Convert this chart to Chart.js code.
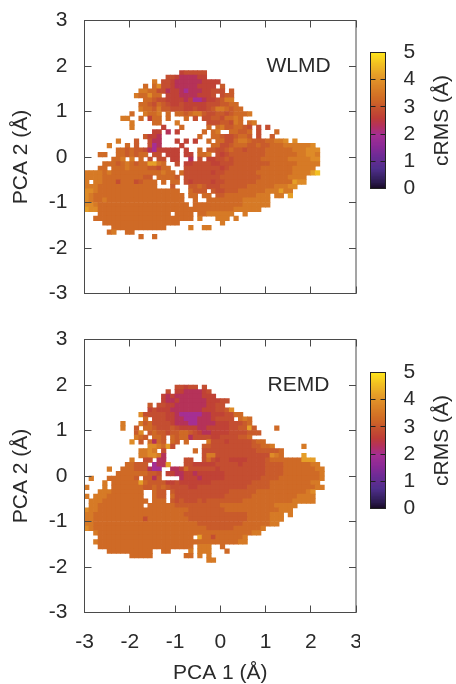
<!DOCTYPE html>
<html>
<head>
<meta charset="utf-8">
<title>cRMS PCA maps</title>
<script src="https://cdn.jsdelivr.net/npm/chart.js@4/dist/chart.umd.min.js"></script>
<style>
  html, body { margin: 0; padding: 0; background: #fff; }
  body { width: 456px; height: 684px; position: relative; overflow: hidden; }
  canvas { position: absolute; display: block; }
</style>
</head>
<body>
<canvas id="wlmdMap" width="360" height="320" style="left:0;top:0"></canvas>
<canvas id="wlmdBar" width="106" height="240" style="left:350px;top:0"></canvas>
<canvas id="remdMap" width="360" height="364" style="left:0;top:320px"></canvas>
<canvas id="remdBar" width="106" height="240" style="left:350px;top:320px"></canvas>
<script>
// ===============================
// DATA
// ===============================
const axisTicks = [-3, -2, -1, 0, 1, 2, 3];
const colorbarTicks = [0, 1, 2, 3, 4, 5];

// one char per 0.1 wide cell, left edge x = -3. "." = no sample, digit = index in crmsLevels
const crmsLevels = [2.0, 2.35, 2.7, 2.9, 3.1, 3.3, 3.6, 3.9, 4.2, 4.6];

// first row is the cell centred on y = 1.85, next rows go down by 0.1
const wlmdTopY = 1.85;
const wlmdRows = [
  ".....................233333",
  "..................332111122",
  "...............6.3321111112222",
  ".............5.57332111112222.4",
  "............6655331221011122333.4",
  "...........655755.22211112223.344",
  ".............55433222212001223466",
  "............5543543223222223334455",
  "............65546443332232234665455",
  "..........5..6556.5.55456643344345556",
  "........66..5.255.5...5.3.334435565",
  "..........6....55...6......33344365.56",
  "..........6......2...5.....5.56445543.3.3",
  "...............22.1.2.....5.56..55445.3...5",
  ".............4221........5..554334554.3..4",
  ".......6...4..311...2.2.2..5.5533566544455667.7",
  ".....6...5.4..301....2......55334555445445556666667",
  ".......55454431022222.2..5.4433454434444555555666777",
  "...55..5545455.33.222.22.556.32344444444555555566776",
  "......556.6.5.3.33.22..1.3.2233434444445555556666677",
  "....55545654558865..3.223333223334444444455555566666",
  "...55.5556555544355...33333333234444444555555566666",
  "66665655555555555655.5333333233444444455555555666689",
  "666655555555544.55554.333333334444444445555556666",
  "6.66555355534555.5.55.323333233444444455555555877",
  "6665555555555555...4...445433344444455555566677",
  "776555555555555555555..5444.433444555555666866",
  "7655555555555555555555.55.55.445555555666.66.8",
  "7655655555555555555555..5..55555555666666",
  "77655555555555555555555.55555555555666666",
  "877555555555555555555555555555555666666",
  "...5555555555555555.5555.55666666..6",
  "..5555555555555555555555.6...666.6",
  "....55555555555555555.........6",
  "......555555555555.....6..66",
  ".....56..55",
  "............5..5"
];

const remdTopY = 1.95;
const remdRows = [
  "....................33233.3",
  "..................3.22111123",
  ".................212111111222",
  ".................211211111122233",
  "..............4.332211111112233",
  "..............2322211111112223347",
  "............73333322100000112223355",
  ".............5.333221100011123333.565",
  "........6...6453333211100111122233345",
  "........6..4.5543334322221122222334484....5",
  "...........47.4544344554321122223333444",
  "...........654.554.545513333223333445",
  "..........7.4.5154.54.5....6333233333455",
  "..............776583......4433333333344556......6",
  "............6676.3......5.333333333333444445",
  "............667761........366333333333333765....8",
  "..........6..33.11....33..3532332222333345555555888",
  ".........55444.0118...332222233333233333444455555566",
  ".....6..555444100..1125333333233333333334444555555566",
  ".......5555555443.22112212222223333333334444555555556",
  ".6...5555554.4414....12221222223333333344445555555556",
  "....6.5555558544442232222222333333333444455555555566",
  "6...6.55555554454543333223333333333344444555555555566",
  "...6665555555..544.43333333333334444445555555555567",
  "6.66655555555..544.53333333333344444455555555556666",
  ".6665555555555.555.43433343444444445555555555566666",
  ".665555555555.555555444444444455555555555566666",
  "7665555555555555555555544444444555555555555666",
  "66555555555555555555554444444444444455555666.6",
  "66555555555553555555555444444444444455555666",
  "6655555555555555555555555444444444455555566",
  "7655555555555555555555555554444445555556",
  "..6555555555555555555555555555555555566",
  "...555555555555555555555.85535555556",
  "..6555555555555555555555555555555566",
  "...555555555555555555555.666..5",
  ".....5555555555..55....6.666...5",
  "..........55555.......55.6.6",
  "...........................66"
];

// ===============================
// COLOR RAMP
// ===============================
const rampStops = [
  [0, "#14071e"], [0.25, "#2b1a4e"], [0.75, "#4f2f8c"], [1.25, "#702b96"], [1.6, "#8c2a96"],
  [2, "#a52f93"], [2.3, "#b33060"], [2.6, "#be3c38"], [3, "#c6542e"], [3.3, "#cf6a26"],
  [3.6, "#d67a26"], [3.9, "#de8b28"], [4.2, "#e59e28"], [4.6, "#f2bf22"], [5, "#fde31c"]
];

function hexRgb(h) {
  return [1, 3, 5].map(i => parseInt(h.slice(i, i + 2), 16));
}

function crmsColor(v) {
  for (let i = 1; i < rampStops.length; i++) {
    if (v <= rampStops[i][0]) {
      const [v0, c0] = rampStops[i - 1];
      const [v1, c1] = rampStops[i];
      const t = (v - v0) / (v1 - v0);
      const a = hexRgb(c0), b = hexRgb(c1);
      return "rgb(" + a.map((c, k) => Math.round(c + (b[k] - c) * t)).join(",") + ")";
    }
  }
  return rampStops[rampStops.length - 1][1];
}

// ===============================
// HELPERS
// ===============================
const FONT = "'Liberation Sans', Arial, sans-serif";
const FONT_SIZE = 21;
const INK = "#2a2a2a";
Chart.defaults.font.family = FONT;
Chart.defaults.font.size = FONT_SIZE;
Chart.defaults.color = INK;

function rowsToCells(rows, topY) {
  const cells = [];
  rows.forEach((row, j) => {
    for (let i = 0; i < row.length; i++) {
      if (row[i] === ".") continue;
      cells.push({
        x: Math.round((-2.95 + i * 0.1) * 100) / 100,
        y: Math.round((topY - j * 0.1) * 100) / 100,
        v: crmsLevels[+row[i]]
      });
    }
  });
  return cells;
}

// chart.js pads the chart area for the end labels, we want the area exactly where it is asked
function noEndPadding(s) {
  s.paddingTop = 0;
  s.paddingBottom = 0;
  s.paddingLeft = 0;
  s.paddingRight = 0;
}

// box with inward ticks on all four sides, plus the run name
function mapFrame(name) {
  return {
    id: "mapFrame",
    afterDatasetsDraw(chart) {
      const { ctx, chartArea: a, scales } = chart;
      ctx.save();
      ctx.strokeStyle = "#4a4a4a";
      ctx.lineWidth = 1;
      ctx.strokeRect(a.left, a.top, a.right - a.left, a.bottom - a.top);
      ctx.beginPath();
      scales.x.ticks.forEach(t => {
        const px = Math.round(scales.x.getPixelForValue(t.value) - 0.5) + 0.5;
        ctx.moveTo(px, a.bottom); ctx.lineTo(px, a.bottom - 7);
        ctx.moveTo(px, a.top); ctx.lineTo(px, a.top + 7);
      });
      scales.y.ticks.forEach(t => {
        const py = Math.round(scales.y.getPixelForValue(t.value) - 0.5) + 0.5;
        ctx.moveTo(a.left, py); ctx.lineTo(a.left + 7, py);
        ctx.moveTo(a.right, py); ctx.lineTo(a.right - 7, py);
      });
      ctx.stroke();
      ctx.fillStyle = INK;
      ctx.font = FONT_SIZE + "px " + FONT;
      ctx.textAlign = "center";
      ctx.textBaseline = "middle";
      ctx.fillText(name, scales.x.getPixelForValue(1.73), scales.y.getPixelForValue(2));
      ctx.restore();
    }
  };
}

function drawMap(id, rows, topY, name, padTop, xHeight, showX) {
  new Chart(document.getElementById(id), {
    type: "scatter",
    data: {
      datasets: [{
        data: rowsToCells(rows, topY),
        pointStyle: "rect",
        pointRadius: 3.7,
        pointBorderWidth: 0,
        pointBackgroundColor: c => crmsColor(c.raw.v)
      }]
    },
    plugins: [mapFrame(name)],
    options: {
      responsive: false,
      animation: false,
      events: [],
      layout: { padding: { left: 0, right: 2.5, top: padTop, bottom: 0 } },
      plugins: { legend: { display: false }, tooltip: { enabled: false } },
      scales: {
        x: {
          type: "linear", min: -3, max: 3,
          afterBuildTicks: s => { s.ticks = axisTicks.map(v => ({ value: v })); },
          afterFit: s => { s.height = xHeight; noEndPadding(s); },
          grid: { display: false },
          border: { display: false },
          ticks: { display: showX, padding: 9, maxRotation: 0, autoSkip: false },
          title: { display: showX, text: "PCA 1 (Å)", padding: 0, font: { lineHeight: 1 } }
        },
        y: {
          type: "linear", min: -3, max: 3,
          afterBuildTicks: s => { s.ticks = axisTicks.map(v => ({ value: v })); },
          afterFit: s => { s.width = 84.5; noEndPadding(s); },
          grid: { display: false },
          border: { display: false },
          ticks: { padding: 9, autoSkip: false },
          title: { display: true, text: "PCA 2 (Å)", padding: 9 }
        }
      }
    }
  });
}

const colorbarFrame = {
  id: "colorbarFrame",
  afterDraw(chart) {
    const { ctx, chartArea: a } = chart;
    ctx.save();
    ctx.strokeStyle = "#222";
    ctx.lineWidth = 1;
    ctx.strokeRect(a.left, a.top, a.right - a.left, a.bottom - a.top);
    ctx.translate(92, (a.top + a.bottom) / 2);
    ctx.rotate(-Math.PI / 2);
    ctx.fillStyle = INK;
    ctx.font = FONT_SIZE + "px " + FONT;
    ctx.textAlign = "center";
    ctx.textBaseline = "middle";
    ctx.fillText("cRMS (Å)", 0, 0);
    ctx.restore();
  }
};

function drawColorbar(id) {
  const steps = [];
  for (let k = 0; k <= 100; k++) steps.push(k / 20);
  new Chart(document.getElementById(id), {
    type: "bar",
    data: {
      datasets: [{
        data: steps.map(v => ({ x: [0, 1], y: v })),
        backgroundColor: steps.map(crmsColor),
        barThickness: 2,
        borderWidth: 0
      }]
    },
    plugins: [colorbarFrame],
    options: {
      indexAxis: "y",
      responsive: false,
      animation: false,
      events: [],
      layout: { padding: { left: 20.5, right: 0, top: 52.5, bottom: 51.5 } },
      plugins: { legend: { display: false }, tooltip: { enabled: false } },
      scales: {
        x: { type: "linear", min: 0, max: 1, display: false },
        y: {
          type: "linear", position: "right", min: 0, max: 5, offset: false,
          afterBuildTicks: s => { s.ticks = colorbarTicks.map(v => ({ value: v })); },
          afterFit: s => { s.width = 70.5; noEndPadding(s); },
          grid: { z: 1, offset: false, drawTicks: false, color: "#222", lineWidth: 1 },
          border: { display: false, dash: [5, 5] },
          ticks: { padding: 18, autoSkip: false }
        }
      }
    }
  });
}

// ===============================
// DRAW
// ===============================
drawMap("wlmdMap", wlmdRows, wlmdTopY, "WLMD", 20.5, 26.5, false);
drawColorbar("wlmdBar");
drawMap("remdMap", remdRows, remdTopY, "REMD", 19.5, 71.5, true);
drawColorbar("remdBar");
</script>
</body>
</html>
